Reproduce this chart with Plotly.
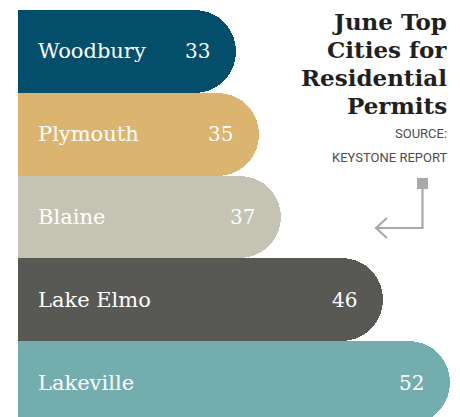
import plotly.graph_objects as go

# Residential permits issued in June, by city
cities = ["Woodbury", "Plymouth", "Blaine", "Lake Elmo", "Lakeville"]
permits = [33, 35, 37, 46, 52]
bar_colors = ["#034f6b", "#dbb46f", "#c5c3b4", "#585854", "#74adae"]

title_lines = ["June Top", "Cities for", "Residential", "Permits"]
source_lines = ["SOURCE:", "KEYSTONE REPORT"]

W, H = 460, 417

fig = go.Figure(
    go.Bar(
        x=permits,
        y=cities,
        orientation="h",
        marker=dict(color=bar_colors, line=dict(width=0), cornerradius="50%"),
        width=1,
        hoverinfo="skip",
    )
)

# City names on the left of each bar, counts near the rounded end
for city, val in zip(cities, permits):
    fig.add_annotation(
        x=0, xref="x domain", y=city, yref="y",
        text=city, showarrow=False, xanchor="left", xshift=18,
        font=dict(family="DejaVu Serif", size=21, color="white"),
    )
    fig.add_annotation(
        x=val, xref="x", y=city, yref="y",
        text=str(val), showarrow=False, xanchor="right", xshift=-24,
        font=dict(family="DejaVu Serif", size=20, color="white"),
    )

# Title block, right aligned
for i, line in enumerate(title_lines):
    fig.add_annotation(
        x=449 / W, xref="paper", y=1 - (21 + 28.3 * i) / H, yref="paper",
        text=line, showarrow=False, xanchor="right", yanchor="middle",
        font=dict(family="DejaVu Serif", size=23, color="#231f20", weight="bold"),
    )

for i, line in enumerate(source_lines):
    fig.add_annotation(
        x=449 / W, xref="paper", y=1 - (133 + 24 * i) / H, yref="paper",
        text=line, showarrow=False, xanchor="right", yanchor="middle",
        font=dict(family="Liberation Sans Narrow, Roboto", size=13, color="#4d4d4f"),
    )

# Pointer arrow from the source note down toward the chart
arrow_col = "#a8a9ab"

def px(x, y):
    return x / W, 1 - y / H

sx0, sy0 = px(417, 178)
sx1, sy1 = px(428, 189)
fig.add_shape(type="rect", xref="paper", yref="paper", x0=sx0, y0=sy0, x1=sx1, y1=sy1,
              fillcolor=arrow_col, line=dict(width=0))
path_pts = [px(422.5, 189), px(422.5, 228), px(376, 228)]
path = "M " + " L ".join(f"{a},{b}" for a, b in path_pts)
fig.add_shape(type="path", xref="paper", yref="paper", path=path,
              line=dict(color=arrow_col, width=2.2))
head_pts = [px(387, 218), px(376, 228), px(387, 238)]
head = "M " + " L ".join(f"{a},{b}" for a, b in head_pts)
fig.add_shape(type="path", xref="paper", yref="paper", path=head,
              line=dict(color=arrow_col, width=2.2))

fig.update_layout(
    width=W, height=H,
    margin=dict(l=0, r=0, t=0, b=0),
    paper_bgcolor="white", plot_bgcolor="white",
    bargap=0, showlegend=False,
    xaxis=dict(domain=[18 / W, 1], range=[13.6, 13.6 + 442 / 11.25],
               visible=False, fixedrange=True),
    yaxis=dict(domain=[0, 1 - 10 / H], range=[4.415, -0.5],
               visible=False, fixedrange=True),
)

fig.write_html("out.html")
